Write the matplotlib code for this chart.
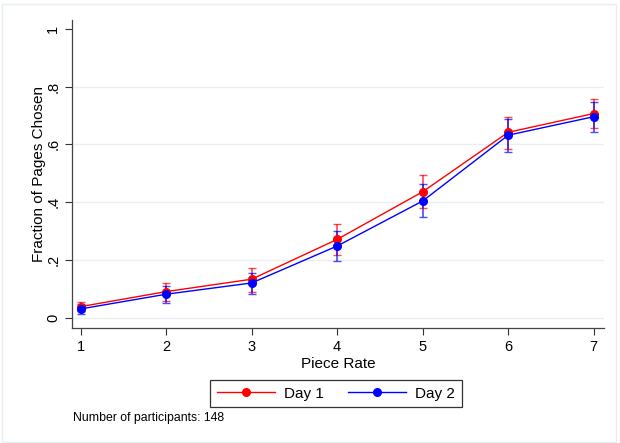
import numpy as np
import matplotlib.pyplot as plt
from matplotlib.patches import Rectangle

plt.rcParams['font.family'] = ['Liberation Sans', 'DejaVu Sans']

# Данные
piece_rate = [1, 2, 3, 4, 5, 6, 7]
day1_mean = [0.038, 0.090, 0.133, 0.271, 0.436, 0.642, 0.707]
day1_low = [0.022, 0.058, 0.089, 0.217, 0.379, 0.584, 0.657]
day1_high = [0.054, 0.121, 0.172, 0.324, 0.495, 0.694, 0.759]
day2_mean = [0.030, 0.081, 0.120, 0.248, 0.404, 0.632, 0.696]
day2_low = [0.013, 0.051, 0.083, 0.196, 0.347, 0.575, 0.643]
day2_high = [0.047, 0.110, 0.156, 0.299, 0.462, 0.687, 0.748]
y_ticks = [0, 0.2, 0.4, 0.6, 0.8, 1.0]
y_tick_labels = ['0', '.2', '.4', '.6', '.8', '1']

fig = plt.figure(figsize=(6.2, 4.43), dpi=100)
# рамка области графика (как в Stata)
fig.patches.append(Rectangle((0.003, 0.003), 0.99, 0.988, transform=fig.transFigure,
                             fill=False, edgecolor='#e6eef2', linewidth=1.0))
ax = fig.add_axes([72 / 620, 1 - 328 / 443, 532 / 620, 308 / 443])

for y in y_ticks[:-1]:
    ax.axhline(y, color='#e8eff3', linewidth=1.0, zorder=0)

series = [
    (day1_mean, day1_low, day1_high, 'red', 'Day 1'),
    (day2_mean, day2_low, day2_high, 'blue', 'Day 2'),
]
for mean, low, high, color, label in series:
    mean = np.array(mean)
    yerr = [mean - np.array(low), np.array(high) - mean]
    ax.errorbar(piece_rate, mean, yerr=yerr, fmt='none', ecolor=color, alpha=0.7,
                elinewidth=1.2, capsize=2.8, capthick=1.0, zorder=2)
    ax.plot(piece_rate, mean, color=color, marker='o', markersize=5.5,
            linewidth=1.0, label=label, zorder=3)

ax.set_xlim(0.90, 7.12)
ax.set_ylim(-0.036, 1.031)
ax.set_xticks(piece_rate)
ax.set_yticks(y_ticks)
ax.set_yticklabels(y_tick_labels, rotation=90, va='center')
ax.tick_params(direction='out', length=5, width=0.8, colors='#333333', labelcolor='black',
               labelsize=10.5)
for side in ['top', 'right']:
    ax.spines[side].set_visible(False)
for side in ['left', 'bottom']:
    ax.spines[side].set_color('#444444')
    ax.spines[side].set_linewidth(0.9)

ax.set_xlabel('Piece Rate', fontsize=11, labelpad=2)
ax.set_ylabel('Fraction of Pages Chosen', fontsize=11, labelpad=0)

leg = ax.legend(loc='upper center', bbox_to_anchor=((336 - 72) / 532, -0.143), ncol=2,
                fontsize=11, frameon=True, fancybox=False, edgecolor='black',
                handlelength=3.8, handletextpad=0.6, columnspacing=1.6, borderpad=0.45)
leg.get_frame().set_linewidth(0.9)

fig.text(73 / 620, 1 - 418 / 443, 'Number of participants: 148', fontsize=8.8, va='center')

fig.savefig('out.png', dpi=100)
